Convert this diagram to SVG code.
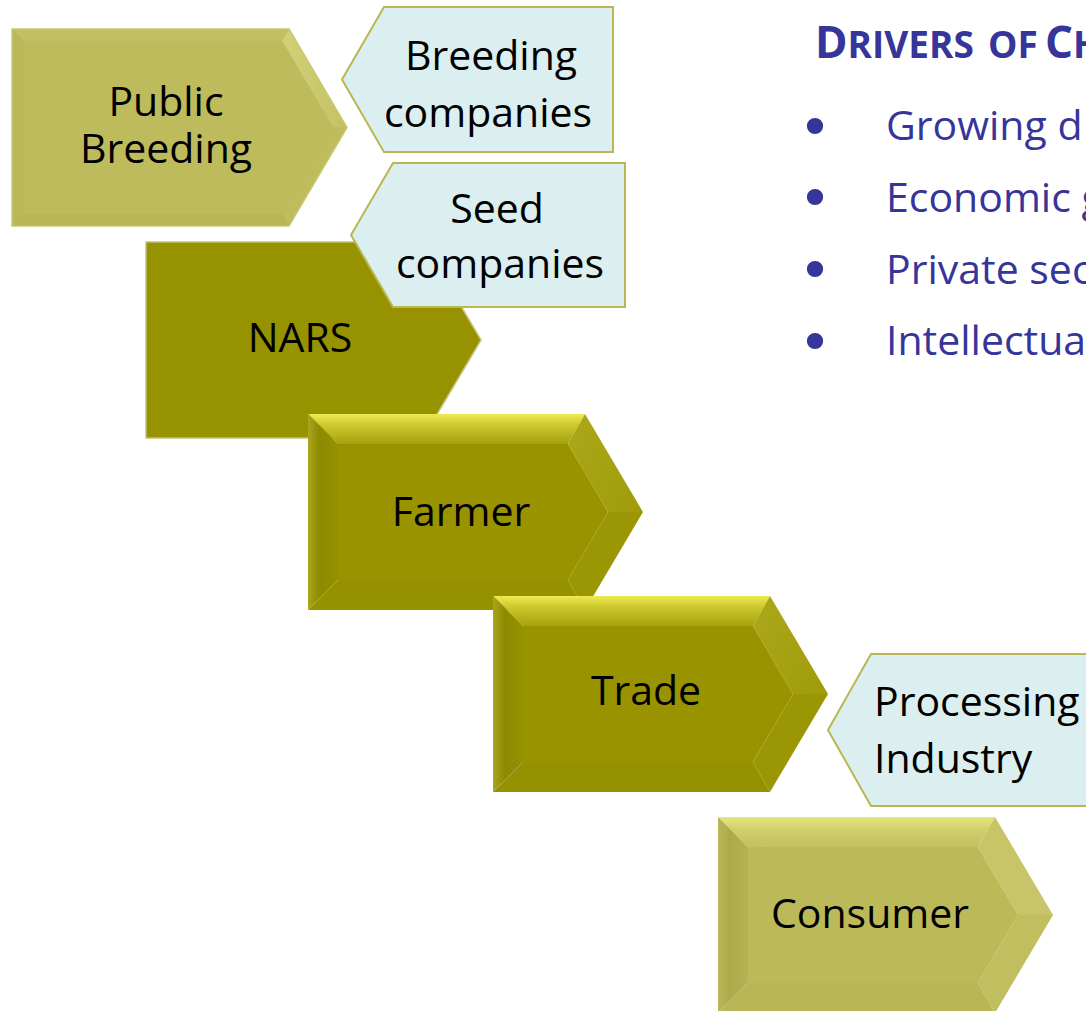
<svg xmlns="http://www.w3.org/2000/svg" width="1086" height="1011" viewBox="0 0 1086 1011">
<defs>
<style>
.lbl{font-family:"Open Sans","Liberation Sans",sans-serif;font-size:41px;fill:#000;}
.mid{text-anchor:middle;}
.blue{fill:#DBEEF0;stroke:#B9B752;stroke-width:2;}
.drv{font-family:"Open Sans","Liberation Sans",sans-serif;font-size:41px;fill:#35359A;}
.bul{font-family:"DejaVu Sans",sans-serif;font-size:56px;fill:#35359A;text-anchor:middle;}
.ttl{font-family:"Open Sans","Liberation Sans",sans-serif;font-weight:bold;fill:#35359A;}
.dFace{fill:#999300;}
.dTop{fill:url(#gDTop);}
.dLeft{fill:url(#gDLeft);}
.dUR{fill:url(#gDUR);}
.dLR{fill:#9B9704;}
.dBot{fill:#959100;}
.lFace{fill:#BCBA58;}
.lTop{fill:url(#gLTop);}
.lLeft{fill:url(#gLLeft);}
.lUR{fill:#C7C568;}
.lLR{fill:#C0BE5E;}
.lBot{fill:#B8B654;}
.pTop{fill:#C1BF61;}
.pLeft{fill:#B9B757;}
.pUR{fill:url(#gPUR);}
.pLR{fill:#BEBC5C;}
.pBot{fill:#B8B656;}
</style>
<linearGradient id="gDTop" x1="0" y1="0" x2="0" y2="1">
<stop offset="0" stop-color="#EEEA52"/>
<stop offset="0.35" stop-color="#CDC92E"/>
<stop offset="1" stop-color="#A6A20E"/>
</linearGradient>
<linearGradient id="gDLeft" x1="0" y1="0" x2="1" y2="0">
<stop offset="0" stop-color="#A9A51C"/>
<stop offset="0.4" stop-color="#8E8A00"/>
<stop offset="1" stop-color="#959100"/>
</linearGradient>
<linearGradient id="gDUR" x1="0" y1="0" x2="1" y2="1">
<stop offset="0" stop-color="#ACA81A"/>
<stop offset="1" stop-color="#9F9B0A"/>
</linearGradient>
<linearGradient id="gLTop" x1="0" y1="0" x2="0" y2="1">
<stop offset="0" stop-color="#E8E67C"/>
<stop offset="0.4" stop-color="#D2D06C"/>
<stop offset="1" stop-color="#C2C05F"/>
</linearGradient>
<linearGradient id="gLLeft" x1="0" y1="0" x2="1" y2="0">
<stop offset="0" stop-color="#B9B75A"/>
<stop offset="0.4" stop-color="#ABA948"/>
<stop offset="1" stop-color="#B5B353"/>
</linearGradient>
<linearGradient id="gPUR" x1="0" y1="0" x2="1" y2="0">
<stop offset="0" stop-color="#D2D17A"/>
<stop offset="1" stop-color="#C3C163"/>
</linearGradient>
</defs>
<rect width="1086" height="1011" fill="#FFFFFF"/>
<g id="connectors"/>

<g id="node-public-breeding">
<polygon fill="#BDBB5B" points="12,29 289,29 347,127.5 289,226 12,226"/>
<polygon class="pTop" points="12,29 289,29 282.2,41 24,41"/>
<polygon class="pUR" points="289,29 347,127.5 333,127.5 282.2,41"/>
<polygon class="pLR" points="347,127.5 289,226 282.2,214 333,127.5"/>
<polygon class="pBot" points="289,226 12,226 24,214 282.2,214"/>
<polygon class="pLeft" points="12,226 12,29 24,41 24,214"/>
<polygon fill="#BDBB5B" points="24,41 282.2,41 333,127.5 282.2,214 24,214"/>
<polygon fill="none" stroke="#C9C86E" stroke-width="1.5" points="12,29 289,29 347,127.5 289,226 12,226"/>
<text class="lbl mid"><tspan x="166" y="116">Public</tspan><tspan x="166" y="163">Breeding</tspan></text>
</g>

<g id="node-breeding-companies">
<polygon class="blue" points="342,79.5 384,7 613,7 613,152 384,152"/>
<text class="lbl mid"><tspan x="491" y="70">Breeding</tspan><tspan x="488" y="127">companies</tspan></text>
</g>

<g id="node-nars">
<polygon fill="#979300" stroke="#C4C27A" stroke-width="1.5" points="146,242 423,242 481,340 423,438 146,438"/>
<text class="lbl mid" x="300" y="352">NARS</text>
</g>

<g id="node-seed-companies">
<polygon class="blue" points="351,235 393,163 625,163 625,307 393,307"/>
<text class="lbl mid"><tspan x="497" y="223">Seed</tspan><tspan x="500" y="278">companies</tspan></text>
</g>

<g id="node-farmer">
<polygon class="dTop" points="308,414 585,414 567.9,444 338,444"/>
<polygon class="dUR" points="585,414 643,512 608.1,512 567.9,444"/>
<polygon class="dLR" points="643,512 585,610 567.9,580 608.1,512"/>
<polygon class="dBot" points="585,610 308,610 338,580 567.9,580"/>
<polygon class="dLeft" points="308,610 308,414 338,444 338,580"/>
<polygon class="dFace" points="338,444 567.9,444 608.1,512 567.9,580 338,580"/>
<text class="lbl mid" x="461" y="526">Farmer</text>
</g>

<g id="node-trade">
<polygon class="dTop" points="493,596 770,596 752.9,626 523,626"/>
<polygon class="dUR" points="770,596 828,694 793.1,694 752.9,626"/>
<polygon class="dLR" points="828,694 770,792 752.9,762 793.1,694"/>
<polygon class="dBot" points="770,792 493,792 523,762 752.9,762"/>
<polygon class="dLeft" points="493,792 493,596 523,626 523,762"/>
<polygon class="dFace" points="523,626 752.9,626 793.1,694 752.9,762 523,762"/>
<text class="lbl mid" x="646" y="705">Trade</text>
</g>

<g id="node-processing-industry">
<polygon class="blue" points="828,730 871,654 1100,654 1100,806 871,806"/>
<text class="lbl"><tspan x="874" y="716">Processing</tspan><tspan x="874" y="773">Industry</tspan></text>
</g>

<g id="node-consumer">
<polygon class="lTop" points="718,817 995,817 977.9,847 748,847"/>
<polygon class="lUR" points="995,817 1053,915 1018.1,915 977.9,847"/>
<polygon class="lLR" points="1053,915 995,1013 977.9,983 1018.1,915"/>
<polygon class="lBot" points="995,1013 718,1013 748,983 977.9,983"/>
<polygon class="lLeft" points="718,1013 718,817 748,847 748,983"/>
<polygon class="lFace" points="748,847 977.9,847 1018.1,915 977.9,983 748,983"/>
<text class="lbl mid" x="870" y="928">Consumer</text>
</g>

<g id="drivers">
<text class="ttl" y="58"><tspan x="815" font-size="44">D</tspan><tspan font-size="37">RIVERS</tspan><tspan x="988" font-size="37">OF</tspan><tspan x="1045" font-size="44">C</tspan><tspan font-size="37">H</tspan></text>
<text class="bul" x="815" y="147">•</text>
<text class="drv" x="886" y="140">Growing d</text>
<text class="bul" x="815" y="218">•</text>
<text class="drv" x="886" y="212">Economic g</text>
<text class="bul" x="815" y="290">•</text>
<text class="drv" x="886" y="284">Private sec</text>
<text class="bul" x="815" y="362">•</text>
<text class="drv" x="886" y="355">Intellectua</text>
</g>
</svg>
